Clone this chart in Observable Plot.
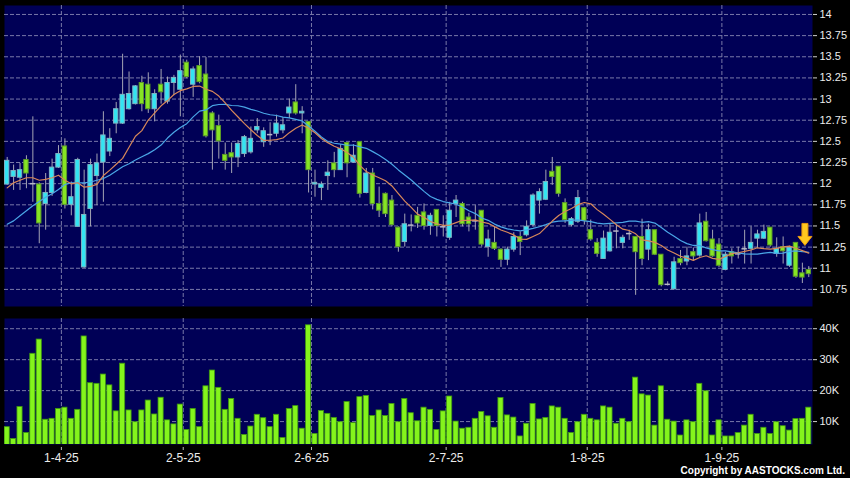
<!DOCTYPE html>
<html><head><meta charset="utf-8">
<script src="https://cdn.jsdelivr.net/npm/d3@7"></script>
<script src="https://cdn.jsdelivr.net/npm/@observablehq/plot@0.6"></script>
<style>
html,body{margin:0;padding:0;background:#000;}
#wrap{position:relative;width:850px;height:478px;background:#000;overflow:hidden;font-family:"Liberation Sans",Arial,sans-serif;}
#price{position:absolute;left:0;top:0;}
#vol{position:absolute;left:0;top:312px;}
#copy{position:absolute;right:5px;top:465px;line-height:12px;color:#fff;font:bold 10px "Liberation Sans",Arial,sans-serif;}
</style></head>
<body><div id="wrap"><div id="price"></div><div id="vol"></div><div id="copy">Copyright by AASTOCKS.com Ltd.</div></div>
<script>
// Daily candles, 20-Mar-2025 .. 19-Sep-2025 (index = trading day)
const open  = [11.99,12.08,12.07,12.28,12.00,11.99,11.76,11.89,12.19,12.44, 11.75,11.49,11.01,11.70,12.09,12.25,12.38,12.71,12.71,12.88, 12.94,13.19,13.17,12.88,13.17,12.97,13.19,13.11,13.43,13.17, 13.39,13.29,12.83,12.68,12.34,12.36,12.31,12.35,12.37,12.63, 12.49,12.58,12.59,12.63,12.83,12.96,12.83,12.73,11.99,11.95, 12.09,12.24,12.16,12.48,12.25,12.49,11.89,12.12,11.76,11.88, 11.80,11.48,11.31,11.51,11.62,11.66,11.50,11.69,11.49,11.36, 11.76,11.76,11.60,11.56,11.68,11.25,11.30,11.22,11.10,11.22, 11.37,11.39,11.51,11.80,11.81,12.14,12.20,11.77,11.51,11.55, 11.71,11.45,11.30,11.11,11.20,11.44,11.30,11.41,11.37,11.37, 11.22,11.45,11.16,10.81,10.75,11.11,11.08,11.19,11.15,11.55, 11.34,11.28,10.98,11.19,11.17,11.23,11.23,11.35,11.35,11.48, 11.17,11.25,11.03,11.30,10.94,10.98];
const high  = [12.31,12.22,12.24,12.33,12.79,12.01,12.12,12.29,12.45,12.53, 12.02,12.30,12.16,12.29,12.35,12.85,12.65,12.96,13.53,13.32, 13.16,13.27,13.31,13.11,13.35,13.26,13.28,13.52,13.46,13.38, 13.50,13.49,12.85,12.81,12.48,12.48,12.51,12.57,12.67,12.77, 12.66,12.72,12.81,12.78,13.00,13.17,12.91,12.73,12.16,12.02, 12.27,12.37,12.46,12.48,12.46,12.49,12.18,12.18,11.96,11.89, 11.86,11.49,11.64,11.63,11.72,11.76,11.65,11.69,11.62,11.78, 11.86,11.78,11.65,11.74,11.68,11.45,11.49,11.23,11.25,11.42, 11.43,11.56,11.88,11.94,12.16,12.31,12.20,11.82,11.60,11.92, 11.72,11.57,11.35,11.44,11.52,11.51,11.39,11.45,11.37,11.58, 11.52,11.45,11.16,10.84,11.13,11.21,11.25,11.24,11.64,11.66, 11.45,11.35,11.19,11.23,11.25,11.45,11.49,11.45,11.51,11.48, 11.36,11.37,11.26,11.30,11.06,11.02];
const low   = [11.98,11.92,11.92,11.94,11.78,11.29,11.45,11.85,12.18,11.70, 11.62,11.49,11.00,11.49,11.74,11.78,12.32,12.59,12.70,12.87, 12.93,12.85,12.83,12.73,12.94,12.94,13.04,12.79,13.24,13.02, 13.18,12.54,12.16,12.29,12.16,12.12,12.19,12.31,12.35,12.59, 12.43,12.45,12.55,12.59,12.77,12.81,12.59,11.89,11.84,11.80, 11.92,12.07,12.16,12.07,12.24,11.83,11.88,11.69,11.60,11.60, 11.49,11.19,11.25,11.43,11.47,11.45,11.39,11.37,11.37,11.33, 11.60,11.49,11.43,11.45,11.25,11.13,11.21,11.01,11.03,11.19, 11.15,11.37,11.49,11.64,11.80,11.98,11.84,11.53,11.49,11.53, 11.51,11.32,11.13,11.11,11.19,11.23,11.23,11.33,10.68,11.03, 11.09,11.15,10.78,10.79,10.75,11.03,11.03,11.09,11.13,11.31, 11.13,11.01,10.97,11.05,11.11,11.05,11.05,11.23,11.34,11.25, 11.13,11.05,11.01,10.88,10.82,10.89];
const close = [12.27,12.15,12.16,12.12,12.00,11.53,11.89,12.19,12.35,11.75, 11.84,12.28,11.63,12.22,12.24,12.57,12.53,12.88,13.05,13.06, 13.15,12.94,12.88,13.06,13.08,13.19,13.25,13.33,13.26,13.35, 13.20,12.56,12.63,12.50,12.27,12.31,12.47,12.55,12.53,12.67, 12.62,12.58,12.71,12.69,12.90,12.83,12.85,12.16,12.01,11.99, 12.13,12.16,12.41,12.24,12.33,11.88,12.12,11.76,11.68,11.64, 11.51,11.25,11.52,11.51,11.53,11.50,11.62,11.50,11.49,11.68, 11.80,11.52,11.52,11.56,11.28,11.34,11.23,11.10,11.22,11.37, 11.31,11.49,11.86,11.90,12.02,12.08,11.88,11.57,11.58,11.83, 11.56,11.34,11.17,11.35,11.42,11.44,11.36,11.41,11.19,11.11, 11.45,11.16,10.80,10.81,11.07,11.06,11.14,11.14,11.53,11.32, 11.14,11.03,11.16,11.14,11.17,11.23,11.30,11.40,11.43,11.27, 11.23,11.20,11.24,10.90,10.89,10.93];
// Volume, thousands of shares
const volume = [8.2,4.4,14.7,6.3,31.9,36.5,10.6,10.9,14.1,14.5, 10.9,13.8,37.5,22.4,22.2,25.2,21.7,13.3,28.7,13.6, 9.8,13.6,16.8,12.3,17.7,10.4,9.1,15.5,7.3,14.1, 8.2,21.4,26.5,20.9,13.8,17.3,10.9,5.7,8.4,12.2, 11.1,8.2,12.2,4.7,14.1,15.0,7.7,41.1,6.0,13.4, 12.5,11.2,9.8,16.3,9.5,17.9,18.3,11.8,13.6,11.8, 15.7,9.8,17.3,12.7,10.1,14.5,13.8,7.3,13.3,18.1, 10.0,7.7,8.0,10.9,13.1,11.7,8.0,17.6,12.0,11.3, 5.2,9.3,15.7,10.7,11.2,14.9,14.5,10.9,6.3,9.8, 12.2,10.9,10.4,14.9,14.5,9.3,10.9,9.8,24.2,18.8, 18.4,8.7,21.4,10.6,10.0,5.5,10.4,9.8,22.2,19.8, 5.5,10.4,5.2,5.2,6.3,8.7,12.2,6.0,8.0,6.0, 9.8,8.5,7.1,10.8,10.9,14.5];
const ma10Early = [11.95,12.01,12.04,12.07,12.07,12.04,12.05,12.07,12.10];
const ma20Early = [11.52,11.56,11.62,11.68,11.74,11.79,11.84,11.88,11.93,11.99,12.01,12.01,12.01,12.02,12.04,12.06,12.10,12.15,12.20];
// Month ticks (trading-day index of first session of month)
const tickIndex  = [8, 27, 47, 68, 90, 111];
const tickLabels = ["1-4-25","2-5-25","2-6-25","2-7-25","1-8-25","1-9-25"];
const priceTicks = [14,13.75,13.5,13.25,13,12.75,12.5,12.25,12,11.75,11.5,11.25,11,10.75];
const volTicks = [10,20,30,40];
const arrowMark = [{i: 124.4, p: 11.40}];

const NAVY = "#000056", GRID = "#7878a8", CYAN = "#33e4f2", GREEN = "#86e424";
const sma = (n, early) => close.map((_, k) => k < n - 1 ? early[k] : d3.mean(close.slice(k - n + 1, k + 1)));
const ma10 = sma(10, ma10Early), ma20 = sma(20, ma20Early);
const bars = close.map((c, i) => ({i, o: open[i], h: high[i], l: low[i], c, v: volume[i], m10: ma10[i], m20: ma20[i]}));
const gridPos = tickIndex.map(i => i + 0.45);
const labelOf = new Map(gridPos.map((p, j) => [p, tickLabels[j]]));
const xDomain = [-0.42, 125.58];
const font = "'Liberation Sans', Arial, sans-serif";
const downArrow = {draw(ctx) {
  ctx.moveTo(-3, -11); ctx.lineTo(3, -11); ctx.lineTo(3, 2); ctx.lineTo(7, 2);
  ctx.lineTo(0, 11); ctx.lineTo(-7, 2); ctx.lineTo(-3, 2); ctx.closePath();
}};

const price = Plot.plot({
  width: 850, height: 312, marginLeft: 4, marginRight: 38, marginTop: 5, marginBottom: 6,
  style: {background: "transparent", color: "#e6e6e6", fontFamily: font, fontSize: "11px", overflow: "visible"},
  x: {type: "linear", domain: xDomain, axis: null},
  y: {type: "linear", domain: [10.548, 14.106], label: null},
  marks: [
    Plot.frame({fill: NAVY}),
    Plot.gridY(priceTicks, {stroke: GRID, strokeOpacity: 1, strokeDasharray: "4,2"}),
    Plot.gridX(gridPos, {stroke: GRID, strokeOpacity: 1, strokeDasharray: "4,2"}),
    Plot.ruleX(bars, {x: "i", y1: "l", y2: "h", stroke: "#a4a4b4", strokeWidth: 1}),
    Plot.rect(bars.filter(d => d.c !== d.o), {
      x1: d => d.i - 0.34, x2: d => d.i + 0.34, y1: "o", y2: "c",
      fill: d => d.c > d.o ? CYAN : GREEN,
      stroke: d => d.c > d.o ? "#7fb4c4" : "#5c9c28", strokeWidth: 1
    }),
    Plot.ruleY(bars.filter(d => d.c === d.o), {y: "c", x1: d => d.i - 0.42, x2: d => d.i + 0.42, stroke: "#b8b8c8", strokeWidth: 1.5}),
    Plot.lineY(bars, {x: "i", y: "m20", stroke: "#4aa6e6", strokeWidth: 1.2}),
    Plot.lineY(bars, {x: "i", y: "m10", stroke: "#d8885a", strokeWidth: 1.2}),
    Plot.dot(arrowMark, {x: "i", y: "p", symbol: downArrow, fill: "#ffc81e", stroke: "#e89a10", strokeWidth: 1}),
    Plot.axisY(priceTicks, {anchor: "right", label: null, tickSize: 4, tickPadding: 3, tickFormat: d => String(d), fontSize: 11, fill: "#ececec", stroke: "#cfcfcf"})
  ]
});
document.getElementById("price").append(price);

const vol = Plot.plot({
  width: 850, height: 166, marginLeft: 4, marginRight: 38, marginTop: 6, marginBottom: 34,
  style: {background: "transparent", color: "#e6e6e6", fontFamily: font, fontSize: "11px", overflow: "visible"},
  x: {type: "linear", domain: xDomain, label: null},
  y: {type: "linear", domain: [2.6, 43.3], label: null},
  marks: [
    Plot.frame({fill: NAVY}),
    Plot.gridY(volTicks, {stroke: GRID, strokeOpacity: 1, strokeDasharray: "4,2"}),
    Plot.gridX(gridPos, {stroke: GRID, strokeOpacity: 1, strokeDasharray: "4,2"}),
    Plot.rect(bars, {x1: d => d.i - 0.4, x2: d => d.i + 0.4, y1: 0, y2: "v", fill: "#84f41c", stroke: "#3f9a10", strokeWidth: 0.8, clip: true}),
    Plot.axisY(volTicks, {anchor: "right", label: null, tickSize: 4, tickPadding: 3, tickFormat: d => d + "K", fontSize: 11, fill: "#ececec", stroke: "#cfcfcf"}),
    Plot.axisX(gridPos, {anchor: "bottom", label: null, tickSize: 3, tickPadding: 3, dy: 3, tickFormat: d => labelOf.get(d), fontSize: 12, fill: "#ececec", stroke: "#bbbbbb"})
  ]
});
document.getElementById("vol").append(vol);
</script>
</body></html>
